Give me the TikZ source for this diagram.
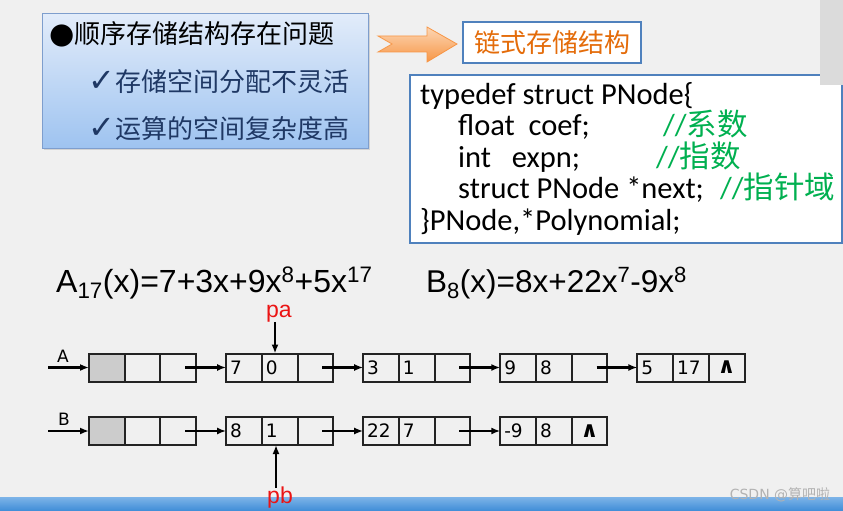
\documentclass[tikz,border=0pt]{standalone}
\usepackage{fontspec}
\usepackage{tikz}
\usetikzlibrary{arrows.meta,positioning,calc,shadows}
\newfontfamily\cjk{Noto Sans CJK SC}
\newfontfamily\codefont{Carlito}
\newfontfamily\listfont{DejaVu Sans}
\newfontfamily\polyfont{Liberation Sans}
\definecolor{slidebg}{RGB}{240,240,240}
\definecolor{paneltop}{RGB}{226,236,250}
\definecolor{panelbot}{RGB}{158,195,240}
\definecolor{panelline}{RGB}{126,158,205}
\definecolor{navy}{RGB}{31,56,100}
\definecolor{frameblue}{RGB}{79,129,189}
\definecolor{orange}{RGB}{228,108,10}
\definecolor{arrowtop}{RGB}{252,214,180}
\definecolor{arrowbot}{RGB}{247,150,70}
\definecolor{green}{RGB}{0,176,80}
\definecolor{red}{RGB}{235,20,20}
\definecolor{cellline}{RGB}{35,35,35}
\definecolor{barlight}{RGB}{125,180,232}
\definecolor{bardark}{RGB}{62,140,215}

\begin{document}
\begin{tikzpicture}[x=1pt, y=-1pt,
    cell/.style={draw=cellline, line width=2pt, outer sep=0pt, inner sep=0pt, minimum width=35.7pt, minimum height=28pt, text width=27.7pt, align=left, font=\listfont\fontsize{18.5}{20}\selectfont},
    headcell/.style={cell, fill=gray!40},
    nilcell/.style={cell, align=center, font=\listfont\fontsize{22}{22}\selectfont},
    link/.style={-{Latex[length=9pt,width=7pt]}, line width=2.2pt},
    ptr/.style={text=red, font=\polyfont\fontsize{23}{24}\selectfont, inner sep=0pt},
    line/.style={anchor=base west, inner sep=0pt, font=\codefont\fontsize{30.5}{33}\selectfont},
    note/.style={line, text=green}]
  \useasboundingbox (0,0) rectangle (843,511);
  \fill[slidebg] (0,0) rectangle (843,511);

  % problem panel
  \node[draw=panelline, line width=1pt, top color=paneltop, bottom color=panelbot, drop shadow={opacity=0.25, shadow xshift=1.5pt, shadow yshift=-1.5pt}, minimum width=326pt, minimum height=135pt] (issues) at (205,81) {};
  \node[anchor=base west, inner sep=0pt, font=\cjk\fontsize{26}{28}\selectfont] (issue1) at (49,44) {{\listfont\fontsize{29}{29}\selectfont ●}顺序存储结构存在问题};
  \node[anchor=base west, inner sep=0pt, text=navy, font=\cjk\fontsize{26}{28}\selectfont] (issue2) at (88,91) {{\listfont\fontsize{32}{32}\selectfont ✓}存储空间分配不灵活};
  \node[anchor=base west, inner sep=0pt, text=navy, font=\cjk\fontsize{26}{28}\selectfont] (issue3) at (88,138) {{\listfont\fontsize{32}{32}\selectfont ✓}运算的空间复杂度高};

  % block arrow
  \draw[arrowbot, line width=0.8pt, top color=arrowtop, bottom color=arrowbot] (378,36) -- (427,36) -- (427,27) -- (457,44) -- (427,62) -- (427,52) -- (378,52) -- (392,44) -- cycle;

  \node[draw=frameblue, line width=1.6pt, fill=white, minimum width=178pt, minimum height=41pt, text=orange, font=\cjk\fontsize{26}{28}\selectfont] (linked) at (552,42.5) {链式存储结构};

  % struct definition
  \node[draw=frameblue, line width=1.6pt, fill=white, minimum width=432pt, minimum height=168pt] (code) at (626,159) {};
  \node[line] (c1) at (420,104) {typedef struct PNode\{};
  \node[line] (c2) at (458,135) {float\ \ coef;};
  \node[note] (n2) at (663,135) {//{\cjk 系数}};
  \node[line] (c3) at (458,167) {int\ \ \ expn;};
  \node[note] (n3) at (656,167) {//{\cjk 指数}};
  \node[line] (c4) at (458,198) {struct PNode\ *next;};
  \node[note] (n4) at (720,198) {//{\cjk 指针域}};
  \node[line] (c5) at (420,230) {\}PNode,*Polynomial;};
  \fill[gray!28] (820,0) rectangle (843,85);

  % polynomials
  \node[anchor=base west, inner sep=0pt, font=\polyfont\fontsize{32}{34}\selectfont] (polyA) at (56,292) {A\textsubscript{17}(x)=7+3x+9x\textsuperscript{8}+5x\textsuperscript{17}};
  \node[anchor=base west, inner sep=0pt, font=\polyfont\fontsize{31.5}{34}\selectfont] (polyB) at (426,292) {B\textsubscript{8}(x)=8x+22x\textsuperscript{7}-9x\textsuperscript{8}};

  % list A
  \node[headcell] (a0a) at (106.85,367.5) {};
  \node[cell, right=0pt of a0a] (a0b) {};
  \node[cell, right=0pt of a0b] (a0c) {};
  \node[cell, right=30pt of a0c] (a1a) {7};
  \node[cell, right=0pt of a1a] (a1b) {0};
  \node[cell, right=0pt of a1b] (a1c) {};
  \node[cell, right=30pt of a1c] (a2a) {3};
  \node[cell, right=0pt of a2a] (a2b) {1};
  \node[cell, right=0pt of a2b] (a2c) {};
  \node[cell, right=30pt of a2c] (a3a) {9};
  \node[cell, right=0pt of a3a] (a3b) {8};
  \node[cell, right=0pt of a3b] (a3c) {};
  \node[cell, right=30pt of a3c] (a4a) {5};
  \node[cell, right=0pt of a4a] (a4b) {17};
  \node[nilcell, right=0pt of a4b] (a4c) {\bfseries ∧};

  % list B
  \node[headcell] (b0a) at (106.85,431) {};
  \node[cell, right=0pt of b0a] (b0b) {};
  \node[cell, right=0pt of b0b] (b0c) {};
  \node[cell, right=30pt of b0c] (b1a) {8};
  \node[cell, right=0pt of b1a] (b1b) {1};
  \node[cell, right=0pt of b1b] (b1c) {};
  \node[cell, right=30pt of b1c] (b2a) {22};
  \node[cell, right=0pt of b2a] (b2b) {7};
  \node[cell, right=0pt of b2b] (b2c) {};
  \node[cell, right=30pt of b2c] (b3a) {-9};
  \node[cell, right=0pt of b3a] (b3b) {8};
  \node[nilcell, right=0pt of b3b] (b3c) {\bfseries ∧};

  \coordinate (Ain) at (48,367.5);
  \coordinate (Bin) at (48,431);
  \node[inner sep=0pt, font=\listfont\fontsize{17}{18}\selectfont] (Alabel) at (63,356) {A};
  \node[inner sep=0pt, font=\listfont\fontsize{17}{18}\selectfont] (Blabel) at (64,419) {B};
  \draw[link] (Ain) -- (a0a.west);
  \draw[link] ([xshift=7pt]a0c.center) -- (a1a.west);
  \draw[link] ([xshift=7pt]a1c.center) -- (a2a.west);
  \draw[link] ([xshift=7pt]a2c.center) -- (a3a.west);
  \draw[link] ([xshift=7pt]a3c.center) -- (a4a.west);
  \draw[link] (Bin) -- (b0a.west);
  \draw[link] ([xshift=7pt]b0c.center) -- (b1a.west);
  \draw[link] ([xshift=7pt]b1c.center) -- (b2a.west);
  \draw[link] ([xshift=7pt]b2c.center) -- (b3a.west);

  % footer bar
  \fill[top color=barlight, bottom color=bardark] (0,497) rectangle (843,511);
  \node[inner sep=0pt, text=gray!60, font=\listfont\fontsize{14}{15}\selectfont] (wmark) at (780,495) {CSDN @{\cjk 算吧啦}};

  % pointers
  \node[ptr, anchor=base] (pa) at (279,317) {pa};
  \draw[link] ([xshift=-4pt]pa.south) -- ([xshift=-4pt]pa.south |- a1b.north);
  \node[ptr, anchor=base] (pb) at (280,503) {pb};
  \draw[link] ([xshift=-4pt,yshift=-2pt]pb.north) -- ([xshift=-4pt]pb.north |- b1b.south);
\end{tikzpicture}
\end{document}
